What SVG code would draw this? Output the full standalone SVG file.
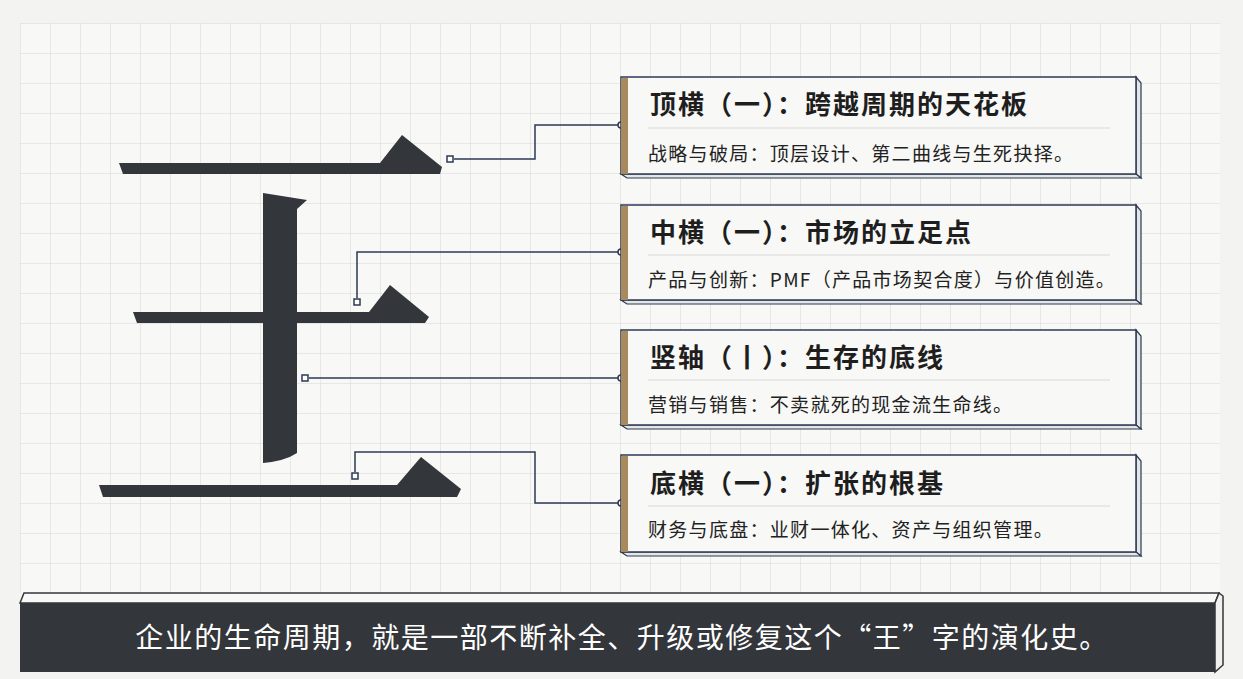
<svg xmlns="http://www.w3.org/2000/svg" width="1243" height="679" viewBox="0 0 1243 679">
<defs>
<pattern id="grid" x="20" y="23" width="30" height="30" patternUnits="userSpaceOnUse">
<path d="M0 0H30M0 0V30" fill="none" stroke="#d6d6d4" stroke-width="1"/>
</pattern>
<style>
.stroke{fill:#33363a}
.conn{fill:none;stroke:#2b3a55;stroke-width:1.5}
.sq{fill:#fff;stroke:#2b3a55;stroke-width:1.5}
.card{fill:#f8f8f6;stroke:#2b3a55;stroke-width:1.5}
.side{fill:#e6e6e4;stroke:#2b3a55;stroke-width:1.2}
.bar{fill:#a88a5e}
.t{font-family:"Noto Sans CJK SC",sans-serif;font-weight:700;font-size:26px;letter-spacing:2px;fill:#1e1e1e}
.s{font-family:"Noto Sans CJK SC",sans-serif;font-size:19px;letter-spacing:1.3px;fill:#222}
.div{stroke:#d8d8d6;stroke-width:1}
</style>
</defs>
<rect width="1243" height="679" fill="#f3f3f1"/>
<rect x="20" y="23" width="1200" height="570" fill="#f8f8f6"/>
<rect x="20" y="23" width="1200" height="570" fill="url(#grid)"/>
<g id="char">
<polygon class="stroke" points="119,163 380,163 402,135 442,167 440,174 123,174"/>
<path class="stroke" d="M263,193 L307,200 L297,209 L297,453 Q285,461 263,463 Z"/>
<polygon class="stroke" points="133,312 369,312 390,285 429,317 425,323 137,323"/>
<polygon class="stroke" points="99,485 397,485 421,457 461,489 457,497 103,497"/>
</g>
<g id="connectors">
<polyline class="conn" points="454,159 535,159 535,125 621,125"/>
<polyline class="conn" points="357,298 357,252 621,252"/>
<polyline class="conn" points="309,378 621,378"/>
<polyline class="conn" points="355,472 355,452 535,452 535,503 621,503"/>
<rect class="sq" x="447" y="156" width="6" height="6"/>
<rect class="sq" x="354" y="299" width="6" height="6"/>
<rect class="sq" x="302" y="375" width="6" height="6"/>
<rect class="sq" x="352" y="473" width="6" height="6"/>
<circle class="sq" cx="621" cy="125" r="3"/>
<circle class="sq" cx="621" cy="252" r="3"/>
<circle class="sq" cx="621" cy="378" r="3"/>
<circle class="sq" cx="621" cy="503" r="3"/>
</g>
<g id="card1">
<polygon class="side" points="1136,77 1141,83 1141,178 1136,174"/>
<polygon class="side" points="621,174 1136,174 1141,178 627,178"/>
<rect class="card" x="621" y="77" width="515" height="97"/>
<rect class="bar" x="621" y="78" width="7" height="96"/>
<text class="t" x="650" y="114">顶横（一）：跨越周期的天花板</text>
<line class="div" x1="648" y1="128" x2="1110" y2="128"/>
<text class="s" x="648" y="161">战略与破局：顶层设计、第二曲线与生死抉择。</text>
</g>
<g id="card2">
<polygon class="side" points="1136,205 1141,211 1141,304 1136,300"/>
<polygon class="side" points="621,300 1136,300 1141,304 627,304"/>
<rect class="card" x="621" y="205" width="515" height="95"/>
<rect class="bar" x="621" y="206" width="7" height="94"/>
<text class="t" x="650" y="242">中横（一）：市场的立足点</text>
<line class="div" x1="648" y1="255" x2="1110" y2="255"/>
<text class="s" x="648" y="287">产品与创新：PMF（产品市场契合度）与价值创造。</text>
</g>
<g id="card3">
<polygon class="side" points="1136,330 1141,336 1141,429 1136,425"/>
<polygon class="side" points="621,425 1136,425 1141,429 627,429"/>
<rect class="card" x="621" y="330" width="515" height="95"/>
<rect class="bar" x="621" y="331" width="7" height="94"/>
<text class="t" x="650" y="367">竖轴（丨）：生存的底线</text>
<line class="div" x1="648" y1="380" x2="1110" y2="380"/>
<text class="s" x="648" y="412">营销与销售：不卖就死的现金流生命线。</text>
</g>
<g id="card4">
<polygon class="side" points="1136,455 1141,461 1141,556 1136,552"/>
<polygon class="side" points="621,552 1136,552 1141,556 627,556"/>
<rect class="card" x="621" y="455" width="515" height="97"/>
<rect class="bar" x="621" y="456" width="7" height="96"/>
<text class="t" x="650" y="493">底横（一）：扩张的根基</text>
<line class="div" x1="648" y1="506" x2="1110" y2="506"/>
<text class="s" x="648" y="537">财务与底盘：业财一体化、资产与组织管理。</text>
</g>
<g id="banner">
<polygon points="24,593 1219,593 1215,603 20,603" fill="#f8f8f6" stroke="#33363a" stroke-width="1.5"/>
<polygon points="1219,593 1223,596 1223,665 1215,672 1215,603" fill="#f0f0ee" stroke="#33363a" stroke-width="1.5"/>
<rect x="20" y="603" width="1195" height="69" fill="#33363a"/>
<text x="622" y="648" text-anchor="middle" font-family="Noto Sans CJK SC,sans-serif" font-size="28" letter-spacing="1.5" fill="#fff">企业的生命周期，就是一部不断补全、升级或修复这个“王”字的演化史。</text>
</g>
</svg>
